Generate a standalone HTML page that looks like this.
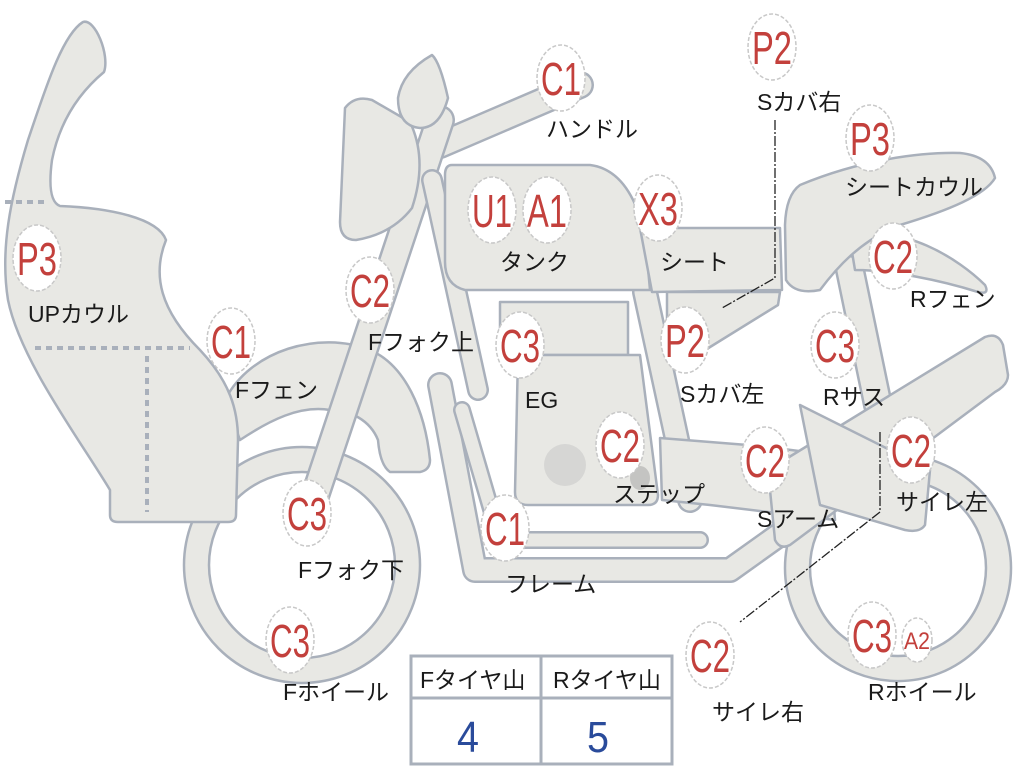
<!DOCTYPE html>
<html><head><meta charset="utf-8"><style>
body{margin:0;background:#fff;width:1024px;height:768px;overflow:hidden}
svg{display:block}
.s{fill:#e8e8e4;stroke:#a9b0bb;stroke-width:2.5;stroke-linejoin:round}
.lb{font-family:"Liberation Sans","Noto Sans CJK JP",sans-serif;font-size:23px;fill:#1a1a1a}
.bt{font-family:"Liberation Sans",sans-serif;font-size:46px;fill:#c3403c;text-anchor:middle}
.e{fill:#ffffff;stroke:#c8c8c8;stroke-width:1.5;stroke-dasharray:4 2}
</style></head><body>
<svg width="1024" height="768" viewBox="0 0 1024 768" xmlns="http://www.w3.org/2000/svg">
<path class="s" fill-rule="evenodd" d="M184,565 a118,118 0 1,0 236,0 a118,118 0 1,0 -236,0 Z M209,565 a93,93 0 1,0 186,0 a93,93 0 1,0 -186,0 Z"/>
<path class="s" fill-rule="evenodd" d="M785,568 a113,113 0 1,0 226,0 a113,113 0 1,0 -226,0 Z M810,568 a88,88 0 1,0 176,0 a88,88 0 1,0 -176,0 Z"/>
<path class="s" d="M225,400 C250,350 320,330 370,350 C405,365 425,410 430,460 Q430,470 420,472 L390,472 Q380,465 378,440 C370,420 350,410 330,410 C300,405 270,420 240,440 Z"/>
<path class="s" d="M83,22 C95,18 110,55 104,72 C80,92 60,120 52,160 C48,190 52,203 60,206 C110,208 158,218 166,240 C152,275 160,310 200,350 C230,382 238,410 238,440 L236,515 Q236,522 228,522 L118,522 Q110,522 110,515 L110,490 C80,440 20,360 8,300 C0,250 10,200 28,140 C45,90 62,35 83,22 Z"/>
<g stroke="#a9b0bb" stroke-width="4" stroke-dasharray="6 5" fill="none">
<path d="M5,202 H48"/><path d="M35,348 H190"/><path d="M147,356 V512"/></g>
<g stroke-linecap="round" fill="none">
<path d="M440,145 L580,85" stroke="#a9b0bb" stroke-width="28"/>
<path d="M440,145 L580,85" stroke="#e8e8e4" stroke-width="23"/>
<path d="M440,120 L312,505" stroke="#a9b0bb" stroke-width="30"/>
<path d="M440,120 L312,505" stroke="#e8e8e4" stroke-width="25"/>
<path d="M432,180 L478,390" stroke="#a9b0bb" stroke-width="22"/>
<path d="M432,180 L478,390" stroke="#e8e8e4" stroke-width="17"/>
<path d="M440,385 L475,570 L730,570 L800,520" stroke="#a9b0bb" stroke-width="26" stroke-linejoin="round"/>
<path d="M440,385 L475,570 L730,570 L800,520" stroke="#e8e8e4" stroke-width="21" stroke-linejoin="round"/>
<path d="M462,410 L500,540 L700,540" stroke="#a9b0bb" stroke-width="18" stroke-linejoin="round"/>
<path d="M462,410 L500,540 L700,540" stroke="#e8e8e4" stroke-width="13" stroke-linejoin="round"/>
<path d="M645,292 L690,500" stroke="#a9b0bb" stroke-width="26"/>
<path d="M645,292 L690,500" stroke="#e8e8e4" stroke-width="21"/>
<path d="M850,270 L878,405" stroke="#a9b0bb" stroke-width="30"/>
<path d="M850,270 L878,405" stroke="#e8e8e4" stroke-width="25"/>
</g>
<path class="s" d="M345,108 Q355,95 372,100 L410,122 Q428,160 412,208 Q392,234 356,240 Q340,240 340,222 Z"/>
<path class="s" d="M432,55 Q440,62 448,98 Q440,128 420,128 Q398,126 398,98 Q402,72 432,55 Z"/>
<path class="s" d="M452,165 L590,165 Q630,170 645,235 L650,290 L465,290 Q445,285 445,262 L445,175 Q445,165 452,165 Z"/>
<path class="s" d="M640,228 L780,228 L782,290 L652,292 Z"/>
<path class="s" d="M667,292 L780,292 L778,305 L702,352 L667,346 Z"/>
<path class="s" d="M850,240 C900,220 960,260 985,285 Q990,295 978,292 C940,280 890,270 855,270 Z"/>
<path class="s" d="M800,185 C860,160 920,152 960,153 Q990,156 995,178 C985,195 950,210 900,225 C860,240 835,270 820,290 Q795,295 786,280 L785,225 Q786,195 800,185 Z"/>
<path class="s" d="M500,302 L628,302 L628,355 L500,355 Z"/>
<path class="s" d="M518,355 L640,355 L658,495 Q658,505 648,505 L528,505 Q515,505 515,492 Z"/>
<circle cx="565" cy="465" r="21" fill="#d6d6d4"/>
<ellipse cx="640" cy="478" rx="10" ry="12" fill="#c4c4c2"/><ellipse cx="692" cy="478" rx="10" ry="12" fill="#c4c4c2"/>
<path class="s" d="M660,438 L760,446 L830,455 L835,520 L710,505 L662,500 Z"/>
<path class="s" d="M768,470 L985,337 Q998,332 1003,345 L1008,375 Q1008,385 995,392 L790,545 Q780,550 775,540 Z"/>
<path class="s" d="M800,405 L930,470 L925,525 Q920,533 905,530 L820,505 Z"/>
<g stroke="#222" stroke-width="1.3" fill="none">
<path d="M775,120 V278 L722,308" stroke-dasharray="10 2 2 2"/>
<path d="M880,432 V512 L740,622" stroke-dasharray="10 2 2 2"/>
</g>
<g stroke="#a9b0bb" stroke-width="3" fill="#fff">
<rect x="411" y="656" width="261" height="108"/>
<line x1="411" y1="698" x2="672" y2="698"/><line x1="541" y1="656" x2="541" y2="764"/></g>
<text class="lb" x="420" y="688">Fタイヤ山</text><text class="lb" x="553" y="688">Rタイヤ山</text>
<text x="468" y="752" font-family="Liberation Sans,sans-serif" font-size="44" fill="#2a4b9b" text-anchor="middle" textLength="22" lengthAdjust="spacingAndGlyphs">4</text>
<text x="598" y="752" font-family="Liberation Sans,sans-serif" font-size="44" fill="#2a4b9b" text-anchor="middle" textLength="22" lengthAdjust="spacingAndGlyphs">5</text>
<g>
<ellipse class="e" cx="37" cy="258" rx="24" ry="33"/><ellipse class="e" cx="231" cy="341" rx="24" ry="33"/>
<ellipse class="e" cx="370" cy="290" rx="24" ry="33"/><ellipse class="e" cx="561" cy="78" rx="24" ry="33"/>
<ellipse class="e" cx="492" cy="210" rx="24" ry="33"/><ellipse class="e" cx="547" cy="210" rx="24" ry="33"/>
<ellipse class="e" cx="658" cy="208" rx="24" ry="33"/><ellipse class="e" cx="772" cy="47" rx="24" ry="33"/>
<ellipse class="e" cx="870" cy="138" rx="24" ry="33"/><ellipse class="e" cx="893" cy="256" rx="24" ry="33"/>
<ellipse class="e" cx="520" cy="345" rx="24" ry="33"/><ellipse class="e" cx="685" cy="340" rx="24" ry="33"/>
<ellipse class="e" cx="835" cy="345" rx="24" ry="33"/><ellipse class="e" cx="620" cy="445" rx="24" ry="33"/>
<ellipse class="e" cx="765" cy="460" rx="24" ry="33"/><ellipse class="e" cx="911" cy="450" rx="24" ry="33"/>
<ellipse class="e" cx="307" cy="513" rx="24" ry="33"/><ellipse class="e" cx="505" cy="528" rx="24" ry="33"/>
<ellipse class="e" cx="290" cy="640" rx="24" ry="33"/><ellipse class="e" cx="710" cy="655" rx="24" ry="33"/>
<ellipse class="e" cx="872" cy="635" rx="24" ry="33"/><ellipse class="e" cx="917" cy="640" rx="15" ry="22"/>
</g>
<g class="bt">
<text x="37" y="275" textLength="40" lengthAdjust="spacingAndGlyphs">P3</text>
<text x="231" y="358" textLength="40" lengthAdjust="spacingAndGlyphs">C1</text>
<text x="370" y="307" textLength="40" lengthAdjust="spacingAndGlyphs">C2</text>
<text x="561" y="95" textLength="40" lengthAdjust="spacingAndGlyphs">C1</text>
<text x="492" y="227" textLength="40" lengthAdjust="spacingAndGlyphs">U1</text>
<text x="547" y="227" textLength="40" lengthAdjust="spacingAndGlyphs">A1</text>
<text x="658" y="225" textLength="40" lengthAdjust="spacingAndGlyphs">X3</text>
<text x="772" y="64" textLength="40" lengthAdjust="spacingAndGlyphs">P2</text>
<text x="870" y="155" textLength="40" lengthAdjust="spacingAndGlyphs">P3</text>
<text x="893" y="273" textLength="40" lengthAdjust="spacingAndGlyphs">C2</text>
<text x="520" y="362" textLength="40" lengthAdjust="spacingAndGlyphs">C3</text>
<text x="685" y="357" textLength="40" lengthAdjust="spacingAndGlyphs">P2</text>
<text x="835" y="362" textLength="40" lengthAdjust="spacingAndGlyphs">C3</text>
<text x="620" y="462" textLength="40" lengthAdjust="spacingAndGlyphs">C2</text>
<text x="765" y="477" textLength="40" lengthAdjust="spacingAndGlyphs">C2</text>
<text x="911" y="467" textLength="40" lengthAdjust="spacingAndGlyphs">C2</text>
<text x="307" y="530" textLength="40" lengthAdjust="spacingAndGlyphs">C3</text>
<text x="505" y="545" textLength="40" lengthAdjust="spacingAndGlyphs">C1</text>
<text x="290" y="657" textLength="40" lengthAdjust="spacingAndGlyphs">C3</text>
<text x="710" y="672" textLength="40" lengthAdjust="spacingAndGlyphs">C2</text>
<text x="872" y="652" textLength="40" lengthAdjust="spacingAndGlyphs">C3</text>
<text x="917" y="649" style="font-size:24px" textLength="26" lengthAdjust="spacingAndGlyphs">A2</text>
</g>
<g class="lb">
<text x="28" y="322">UPカウル</text>
<text x="235" y="398">Fフェン</text>
<text x="368" y="350">Fフォク上</text>
<text x="546" y="137">ハンドル</text>
<text x="500" y="270">タンク</text>
<text x="660" y="270">シート</text>
<text x="757" y="110">Sカバ右</text>
<text x="845" y="195">シートカウル</text>
<text x="910" y="307">Rフェン</text>
<text x="525" y="408">EG</text>
<text x="680" y="402">Sカバ左</text>
<text x="823" y="405">Rサス</text>
<text x="613" y="502">ステップ</text>
<text x="757" y="527">Sアーム</text>
<text x="896" y="510">サイレ左</text>
<text x="298" y="578">Fフォク下</text>
<text x="505" y="592">フレーム</text>
<text x="283" y="700">Fホイール</text>
<text x="712" y="720">サイレ右</text>
<text x="868" y="700">Rホイール</text>
</g>
</svg>
</body></html>
